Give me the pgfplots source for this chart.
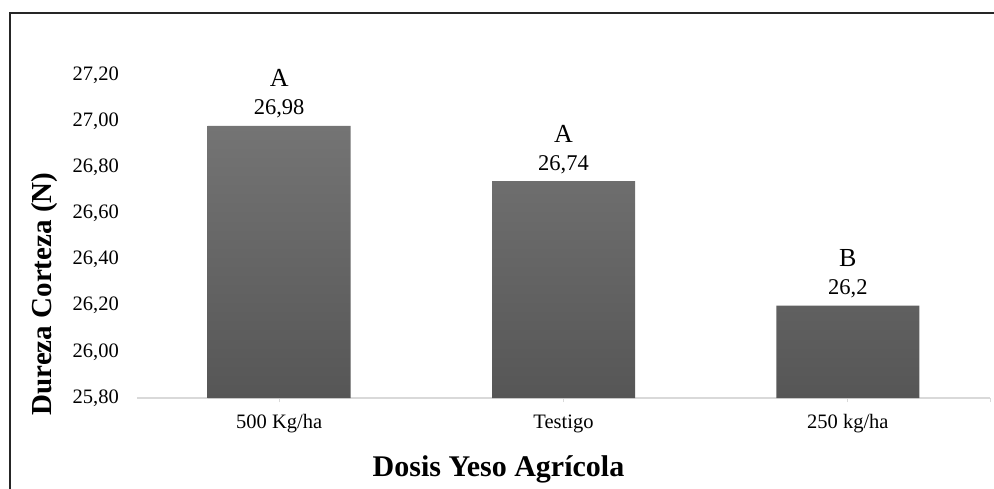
\documentclass[border=0pt]{standalone}
\usepackage{fontspec}
\setmainfont{Liberation Serif}
\usepackage{pgfplots}
\pgfplotsset{compat=1.18}
\usepackage{pgfplotstable}

\definecolor{bartop}{HTML}{747474}
\definecolor{barbot}{HTML}{565656}
\definecolor{axisgray}{HTML}{D9D9D9}

\pgfplotstableread{
x y val let
0 26.98 26,98 A
1 26.74 26,74 A
2 26.20 26,2 B
}\datatable

\begin{document}
\begin{tikzpicture}
\begin{scope}
\clip (0bp,0bp) rectangle (994bp,489bp);
\draw[line width=2bp, black!85] (10bp,-20bp) -- (10bp,476bp) -- (1020bp,476bp);
\begin{axis}[
  at={(137bp,91bp)}, anchor=south west,
  scale only axis, width=853bp, height=323bp,
  xmin=-0.5, xmax=2.5, ymin=25.8, ymax=27.2,
  y coord trafo/.code={\pgfmathparse{#1-25.8}},
  y coord inv trafo/.code={\pgfmathparse{#1+25.8}},
  clip=false,
  axis x line*=bottom, axis y line*=left,
  y axis line style={draw=none},
  x axis line style={draw=axisgray, line width=1.3bp},
  ytick={25.8,26.0,26.2,26.4,26.6,26.8,27.0,27.2},
  ytick style={draw=none},
  yticklabel style={anchor=east, inner sep=0pt, xshift=-14bp,
    /pgf/number format/fixed, /pgf/number format/fixed zerofill,
    /pgf/number format/precision=2, /pgf/number format/use comma,
    /pgf/number format/assume math mode=true},
  xtick={0,1,2}, xticklabels={500 Kg/ha, Testigo, 250 kg/ha},
  extra x ticks={2.5}, extra x tick labels={},
  xtick style={draw=axisgray, line width=1bp},
  tick align=outside, major tick length=4bp,
  xticklabel style={anchor=base, yshift=-26bp},
  tick label style={font=\fontsize{20.5bp}{23bp}\selectfont},
  xlabel={Dosis Yeso Agrícola},
  xlabel style={font=\bfseries\fontsize{30bp}{33bp}\selectfont, at={(axis description cs:0.4238,-0.2415)}, anchor=base},
  ylabel={Dureza Corteza (N)},
  ylabel style={font=\bfseries\fontsize{29bp}{32bp}\selectfont, at={(axis description cs:-0.108,0.322)}, anchor=center},
]
\addplot[ybar, bar width=143bp, draw=none, top color=bartop, bottom color=barbot,
  nodes near coords, point meta=explicit symbolic,
  nodes near coords style={anchor=base, yshift=11bp, font=\fontsize{22.5bp}{25bp}\selectfont, text=black}]
  table[x=x, y=y, meta=val] {\datatable};
\addplot[draw=none, mark=none,
  nodes near coords, point meta=explicit symbolic,
  nodes near coords style={anchor=base, yshift=39bp, font=\fontsize{26bp}{29bp}\selectfont, text=black}]
  table[x=x, y=y, meta=let] {\datatable};
\end{axis}
\end{scope}
\pgfresetboundingbox
\path[use as bounding box] (0bp,0bp) rectangle (994bp,489bp);
\end{tikzpicture}
\end{document}
